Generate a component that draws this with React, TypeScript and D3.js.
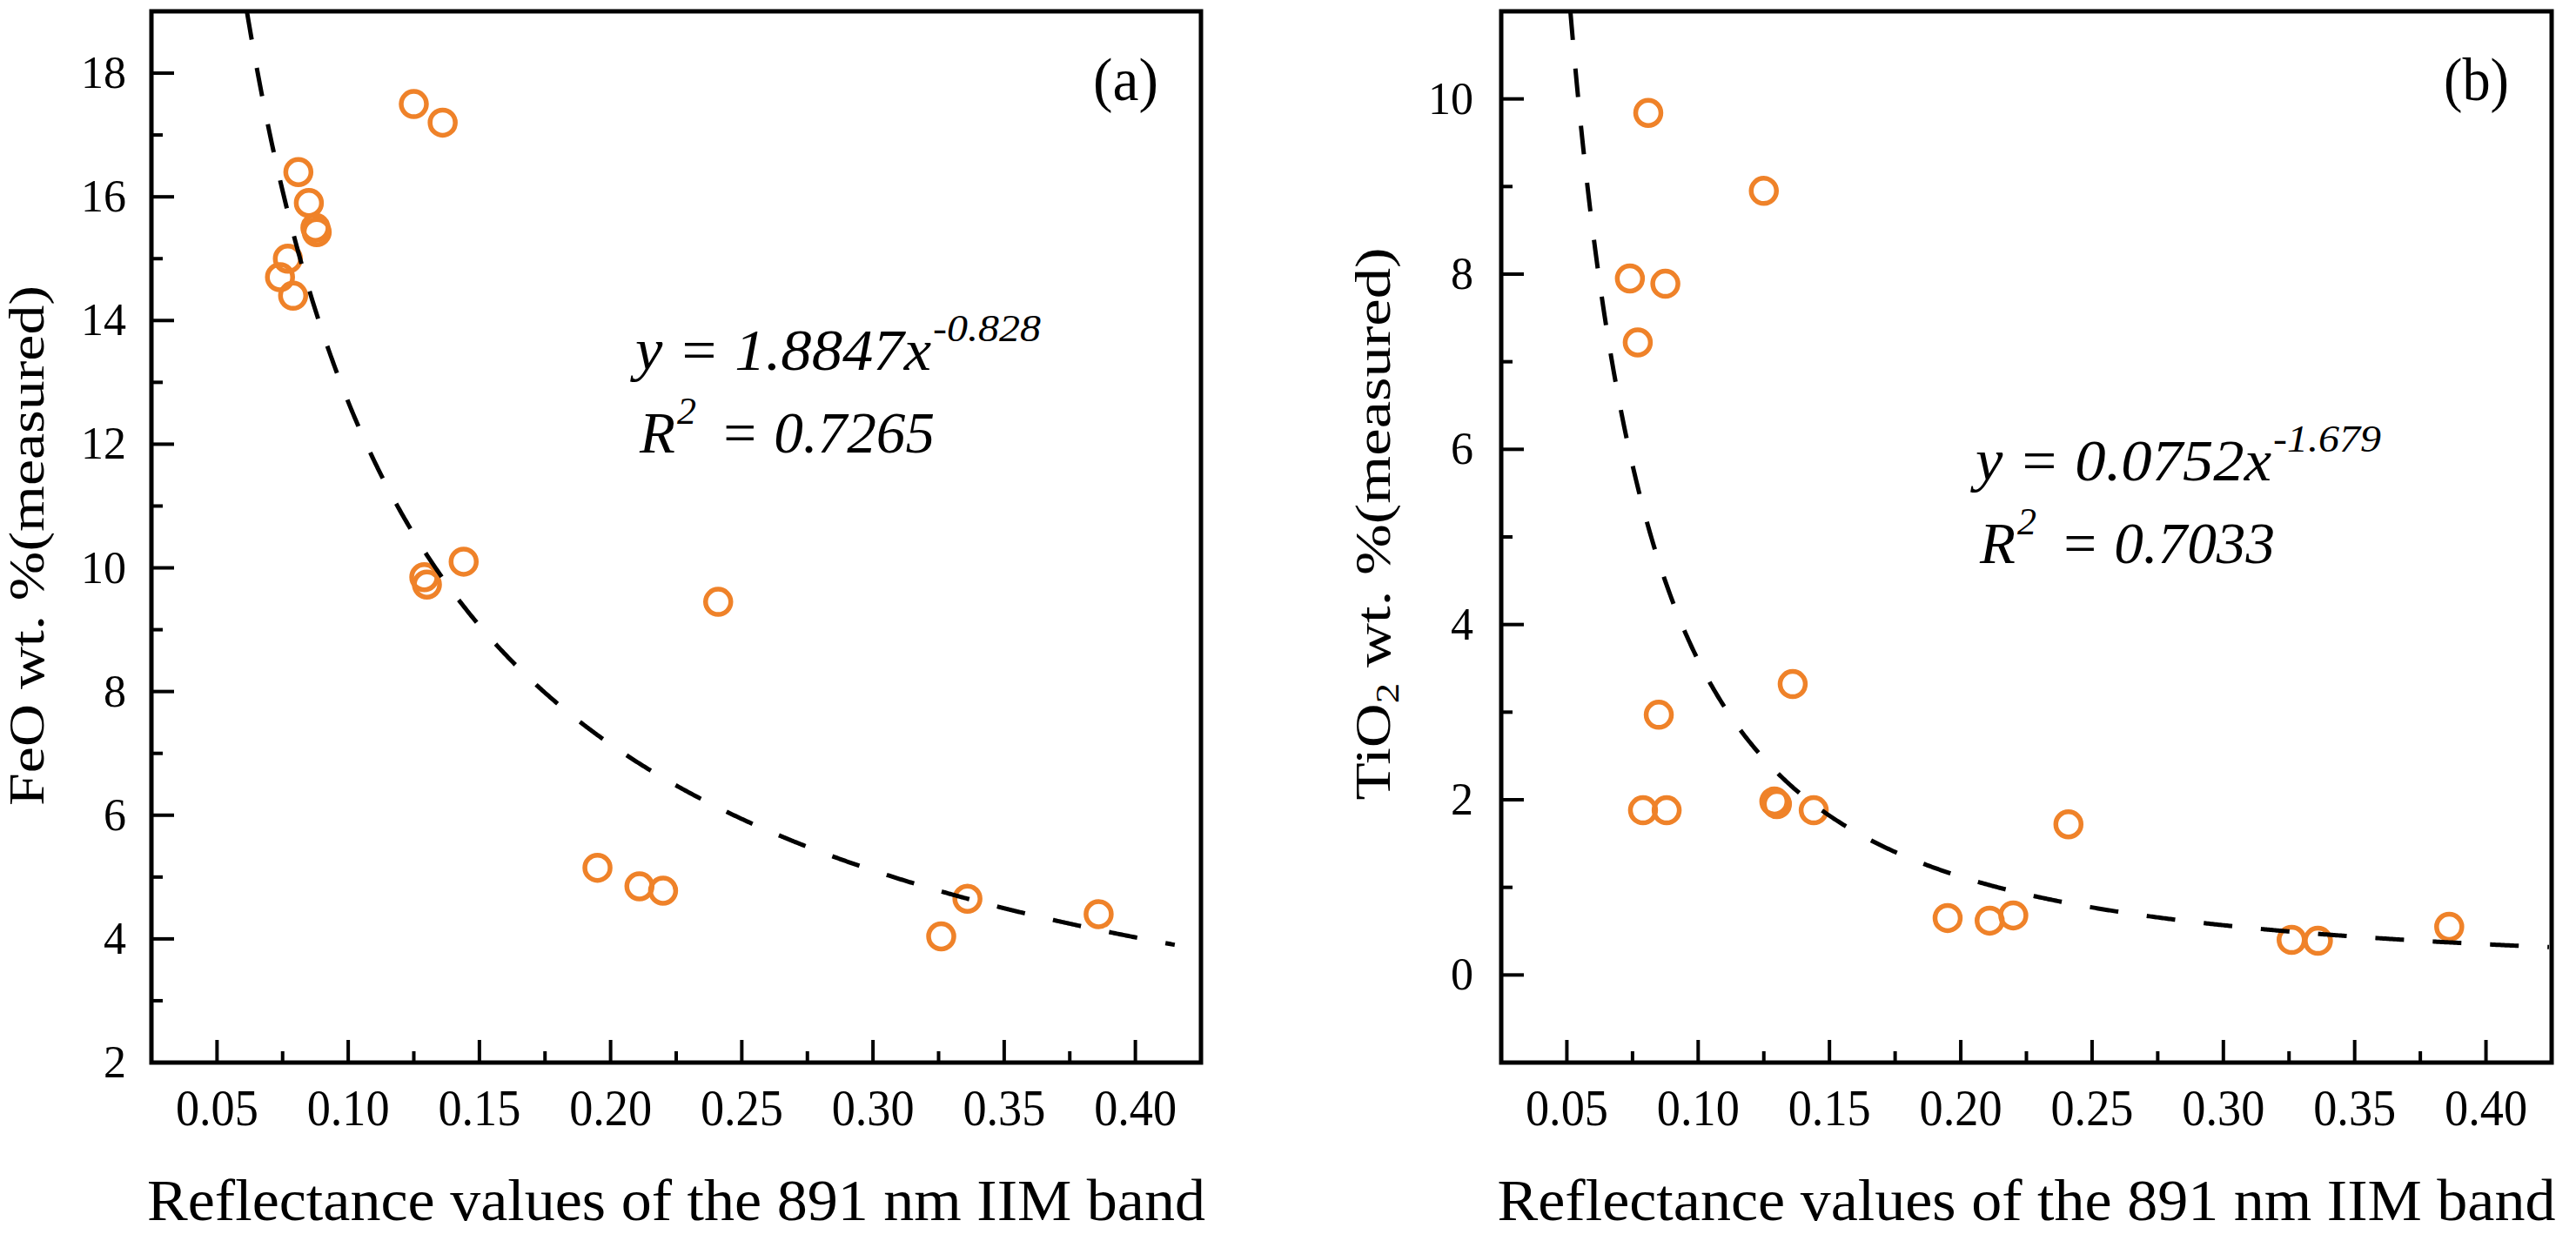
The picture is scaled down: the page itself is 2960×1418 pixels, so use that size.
import * as d3 from "d3";

// Reflectance of the 891 nm IIM band (shared by both panels)
const reflectance = [
  0.074, 0.077, 0.079, 0.081, 0.085, 0.0875, 0.088, 0.125, 0.129, 0.13,
  0.136, 0.144, 0.195, 0.211, 0.22, 0.241, 0.326, 0.336, 0.386,
];
const feo = [
  14.7, 15.0, 14.4, 16.4, 15.9, 15.5, 15.43, 17.5, 9.85, 9.73, 17.2, 10.1,
  5.15, 4.85, 4.78, 9.45, 4.04, 4.65, 4.4,
];
const tio2 = [
  7.95, 7.22, 1.88, 9.84, 2.97, 7.89, 1.88, 8.95, 1.98, 1.95, 3.32, 1.88,
  0.65, 0.62, 0.68, 1.72, 0.4, 0.39, 0.55,
];

const xTicks = [0.05, 0.1, 0.15, 0.2, 0.25, 0.3, 0.35, 0.4];
const xMinor = [0.075, 0.125, 0.175, 0.225, 0.275, 0.325, 0.375];
const feoTicks = [2, 4, 6, 8, 10, 12, 14, 16, 18];
const feoMinor = [3, 5, 7, 9, 11, 13, 15, 17];
const tioTicks = [0, 2, 4, 6, 8, 10];
const tioMinor = [1, 3, 5, 7, 9];

// power-law fits y = a * x^b, as printed on the chart
const feoFit = { a: 1.8847, b: -0.828, end: 0.415 };
const tioFit = { a: 0.0752, b: -1.679, end: 0.424 };

const ORANGE = "#EF8229";
const FONT = "'Liberation Serif', 'Times New Roman', serif";

const TOP = 13;
const BOTTOM = 1221;

interface PanelProps {
  left: number;
  right: number;
  values: number[];
  yDomain: [number, number];
  yTicks: number[];
  yMinor: number[];
  fit: { a: number; b: number; end: number };
  tag: string;
  eq: { coef: string; exp: string; r2: string };
  eqX: number;
  eqY: number;
  titleX: number;
  titleLen: number;
  titleCy: number;
  sub: boolean;
  labelGap: number;
}

function Panel(p: PanelProps) {
  const x = d3.scaleLinear().domain([0.025, 0.425]).range([p.left, p.right]);
  const y = d3.scaleLinear().domain(p.yDomain).range([BOTTOM, TOP]);

  // curve starts where it leaves the top of the frame
  const x0 = Math.pow(p.yDomain[1] / p.fit.a, 1 / p.fit.b);
  const xs = d3.range(x0, p.fit.end, 0.0005).concat([p.fit.end]);
  const line = d3
    .line<number>()
    .x((d) => x(d))
    .y((d) => y(p.fit.a * Math.pow(d, p.fit.b)));

  const cx = (p.left + p.right) / 2;

  return (
    <g fontFamily={FONT} fill="#000">
      {reflectance.map((r, i) => (
        <circle
          key={i}
          cx={x(r)}
          cy={y(p.values[i])}
          r={14.5}
          fill="none"
          stroke={ORANGE}
          strokeWidth={5.5}
        />
      ))}
      <path
        d={line(xs) || ""}
        fill="none"
        stroke="#000"
        strokeWidth={5}
        strokeDasharray="33 33"
      />
      <rect
        x={p.left}
        y={TOP}
        width={p.right - p.left}
        height={BOTTOM - TOP}
        fill="none"
        stroke="#000"
        strokeWidth={5}
      />
      {xTicks.map((t) => (
        <g key={t}>
          <line x1={x(t)} x2={x(t)} y1={BOTTOM} y2={BOTTOM - 26} stroke="#000" strokeWidth={4} />
          <text
            x={x(t)}
            y={1293}
            fontSize={59}
            textAnchor="middle"
            textLength={95}
            lengthAdjust="spacingAndGlyphs"
          >
            {t.toFixed(2)}
          </text>
        </g>
      ))}
      {xMinor.map((t) => (
        <line key={t} x1={x(t)} x2={x(t)} y1={BOTTOM} y2={BOTTOM - 13} stroke="#000" strokeWidth={4} />
      ))}
      {p.yTicks.map((t) => (
        <g key={t}>
          <line x1={p.left} x2={p.left + 26} y1={y(t)} y2={y(t)} stroke="#000" strokeWidth={4} />
          <text x={p.left - p.labelGap} y={y(t) + 17} fontSize={52} textAnchor="end">
            {t}
          </text>
        </g>
      ))}
      {p.yMinor.map((t) => (
        <line key={t} x1={p.left} x2={p.left + 13} y1={y(t)} y2={y(t)} stroke="#000" strokeWidth={4} />
      ))}

      <text
        x={cx}
        y={1402}
        fontSize={68}
        textAnchor="middle"
        textLength={1216}
        lengthAdjust="spacingAndGlyphs"
      >
        Reflectance values of the 891 nm IIM band
      </text>

      <text
        transform={`translate(${p.titleX},${p.titleCy}) rotate(-90)`}
        fontSize={57}
        textAnchor="middle"
        textLength={p.titleLen}
        lengthAdjust="spacingAndGlyphs"
      >
        {p.sub ? (
          <>
            TiO<tspan fontSize={38} dy={10}>2</tspan>
            <tspan dy={-10}> wt. %(measured)</tspan>
          </>
        ) : (
          "FeO wt. %(measured)"
        )}
      </text>

      <text
        x={p.right - 49}
        y={115}
        fontSize={70}
        textAnchor="end"
        textLength={75}
        lengthAdjust="spacingAndGlyphs"
      >
        {p.tag}
      </text>

      <g fontStyle="italic">
        <text x={p.eqX} y={p.eqY} fontSize={67} textLength={340} lengthAdjust="spacingAndGlyphs">
          {`y = ${p.eq.coef}x`}
        </text>
        <text x={p.eqX + 342} y={p.eqY - 33} fontSize={44} textLength={124} lengthAdjust="spacingAndGlyphs">
          {p.eq.exp}
        </text>
        <text x={p.eqX + 5} y={p.eqY + 95} fontSize={67}>
          R
        </text>
        <text x={p.eqX + 48} y={p.eqY + 62} fontSize={44}>
          2
        </text>
        <text
          x={p.eqX + 97}
          y={p.eqY + 95}
          fontSize={67}
          textLength={247}
          lengthAdjust="spacingAndGlyphs"
        >
          {`= ${p.eq.r2}`}
        </text>
      </g>
    </g>
  );
}

export default function App() {
  return (
    <svg
      width={2960}
      height={1418}
      style={{ position: "absolute", left: 0, top: 0, background: "#fff" }}
    >
      <rect width={2960} height={1418} fill="#fff" />
      <Panel
        left={174}
        right={1380}
        values={feo}
        yDomain={[2, 19]}
        yTicks={feoTicks}
        yMinor={feoMinor}
        fit={feoFit}
        tag="(a)"
        eq={{ coef: "1.8847", exp: "-0.828", r2: "0.7265" }}
        eqX={730}
        eqY={425}
        titleX={50}
        titleLen={598}
        titleCy={627}
        sub={false}
        labelGap={29}
      />
      <Panel
        left={1725}
        right={2932}
        values={tio2}
        yDomain={[-1, 11]}
        yTicks={tioTicks}
        yMinor={tioMinor}
        fit={tioFit}
        tag="(b)"
        eq={{ coef: "0.0752", exp: "-1.679", r2: "0.7033" }}
        eqX={2270}
        eqY={552}
        titleX={1597}
        titleLen={635}
        titleCy={602}
        sub={true}
        labelGap={32}
      />
    </svg>
  );
}
